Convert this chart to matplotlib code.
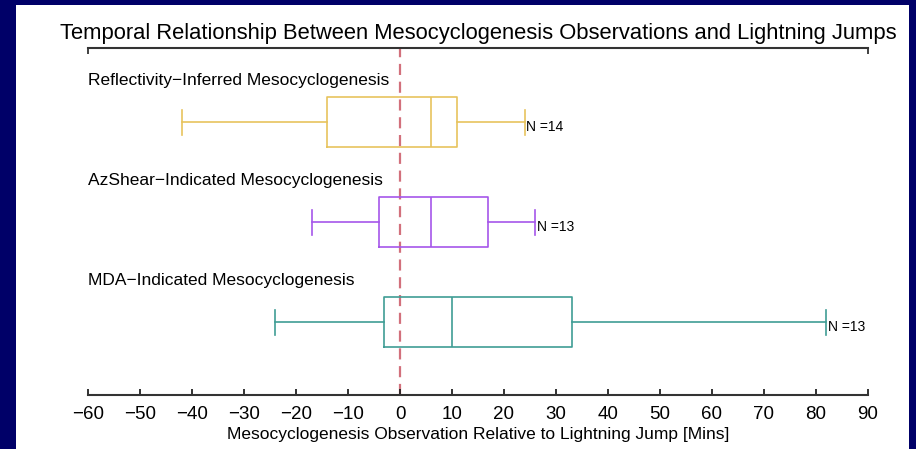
import matplotlib
matplotlib.use("Agg")
import matplotlib.pyplot as plt
from matplotlib.patches import Rectangle

plt.rcParams['font.family'] = ['Liberation Sans', 'DejaVu Sans']

# box stats (minutes relative to lightning jump)
names = ['MDA\u2212Indicated Mesocyclogenesis',
         'AzShear\u2212Indicated Mesocyclogenesis',
         'Reflectivity\u2212Inferred Mesocyclogenesis']
whislo = [-24, -17, -42]
q1 = [-3, -4, -14]
med = [10, 6, 6]
q3 = [33, 17, 11]
whishi = [82, 26, 24]
counts = [13, 13, 14]
colors = ['#3f9d95', '#a556ea', '#e7c35d']

fig = plt.figure(figsize=(9.16, 4.49), dpi=100)
fig.patch.set_facecolor('#000068')
fig.patches.append(Rectangle((16 / 916, 0), (909 - 16) / 916, (449 - 5) / 449,
                             transform=fig.transFigure, facecolor='white',
                             edgecolor='none', zorder=-5))

ax = fig.add_axes([88 / 916, (449 - 395) / 449, 780 / 916, (395 - 48) / 449])
ax.set_facecolor('none')

stats = []
for i in range(3):
    stats.append({'whislo': whislo[i], 'q1': q1[i], 'med': med[i],
                  'q3': q3[i], 'whishi': whishi[i], 'fliers': []})

positions = [1, 2, 3]
for i in range(3):
    c = colors[i]
    ax.bxp([stats[i]], positions=[positions[i]], widths=0.5, capwidths=0.25,
           orientation='horizontal', showfliers=False,
           boxprops=dict(color=c, linewidth=1.2),
           whiskerprops=dict(color=c, linewidth=1.2, linestyle='-'),
           capprops=dict(color=c, linewidth=1.2),
           medianprops=dict(color=c, linewidth=1.2))
    ax.text(-60, positions[i] + 0.42, names[i], fontsize=12.5, va='center', ha='left')
    ax.text(whishi[i] + 0.3, positions[i] - 0.05, 'N =' + str(counts[i]),
            fontsize=10, va='center', ha='left')

ax.axvline(0, color='#d2707c', linestyle=(0, (5, 3)), linewidth=1.6, zorder=0.5)

ax.set_xlim(-60, 90)
ax.set_ylim(0.27, 3.74)
ax.set_xticks(range(-60, 91, 10))
ax.set_xticklabels(['\u2212' + str(-v) if v < 0 else str(v) for v in range(-60, 91, 10)])
ax.set_yticks([])
ax.tick_params(axis='x', direction='in', length=4, width=1.3, labelsize=13.5,
               pad=8, color='#222222')
for s in ['left', 'right']:
    ax.spines[s].set_visible(False)
for s in ['top', 'bottom']:
    ax.spines[s].set_color('#333333')
    ax.spines[s].set_linewidth(1.5)

top = ax.secondary_xaxis('top')
top.set_xticks([-60, 90])
top.set_xticklabels([])
top.tick_params(direction='in', length=4, width=1.3, color='#333333')
top.spines['top'].set_visible(False)

ax.set_xlabel('Mesocyclogenesis Observation Relative to Lightning Jump [Mins]',
              fontsize=12.5, labelpad=3)
fig.text(478 / 916, 1 - 34 / 449,
         'Temporal Relationship Between Mesocyclogenesis Observations and Lightning Jumps',
         fontsize=15.8, ha='center', va='center')

fig.savefig('out.png', dpi=100, facecolor=fig.get_facecolor())
